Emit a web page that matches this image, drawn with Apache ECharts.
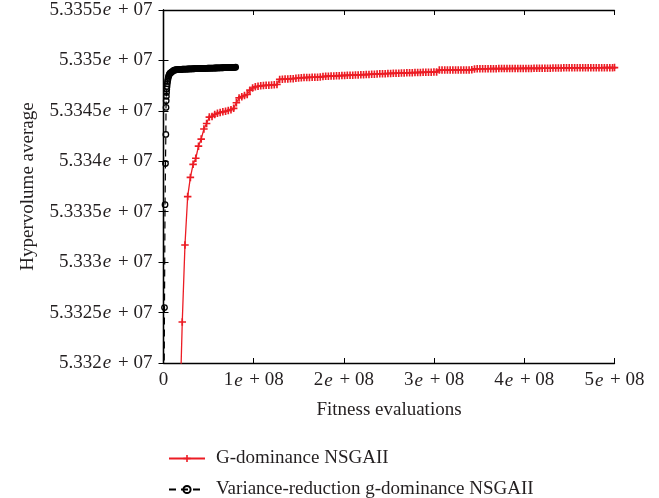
<!DOCTYPE html>
<html>
<head>
<meta charset="utf-8">
<script src="https://cdn.jsdelivr.net/npm/echarts@6/dist/echarts.min.js"></script>
<style>
  html, body { margin: 0; padding: 0; background: #fff; }
  #chart { width: 659px; height: 498px; }
</style>
</head>
<body>
<div id="chart"></div>
<script>
// Fitness evaluations are stored in millions; hypervolume averages as raw values.
const seriesNames = ['G-dominance NSGAII', 'Variance-reduction g-dominance NSGAII'];

const gdomEvalsM = [
  18.2, 20.8, 23.8, 26.8, 29.8, 32.8, 35.8, 38.8, 41.8, 44.8, 47.8, 50.8, 53.8, 56.8, 59.8,
  62.8, 65.8, 68.8, 71.8, 74.8, 77.8, 80.8, 83.8, 86.8, 89.8, 92.8, 95.8, 98.8, 101.8, 104.8,
  107.8, 110.8, 113.8, 116.8, 119.8, 122.8, 125.8,
  128.8, 131.8, 134.8, 137.8, 140.8, 143.8, 146.8, 149.8, 152.8, 155.8,
  158.8, 161.8, 164.8, 167.8, 170.8, 173.8, 176.8, 179.8, 182.8, 185.8,
  188.8, 191.8, 194.8, 197.8, 200.8, 203.8, 206.8, 209.8, 212.8, 215.8,
  218.8, 221.8, 224.8, 227.8, 230.8, 233.8, 236.8, 239.8, 242.8, 245.8,
  248.8, 251.8, 254.8, 257.8, 260.8, 263.8, 266.8, 269.8, 272.8, 275.8,
  278.8, 281.8, 284.8, 287.8, 290.8, 293.8, 296.8, 299.8, 302.8, 305.8,
  308.8, 311.8, 314.8, 317.8, 320.8, 323.8, 326.8, 329.8, 332.8, 335.8,
  338.8, 341.8, 344.8, 347.8, 350.8, 353.8, 356.8, 359.8, 362.8, 365.8,
  368.8, 371.8, 374.8, 377.8, 380.8, 383.8, 386.8, 389.8, 392.8, 395.8,
  398.8, 401.8, 404.8, 407.8, 410.8, 413.8, 416.8, 419.8, 422.8, 425.8,
  428.8, 431.8, 434.8, 437.8, 440.8, 443.8, 446.8, 449.8, 452.8, 455.8,
  458.8, 461.8, 464.8, 467.8, 470.8, 473.8, 476.8, 479.8, 482.8, 485.8,
  488.8, 491.8, 494.8, 497.8, 500.0
];
const gdomHV = [
  53315500, 53324070, 53331700, 53336500, 53338400, 53339700, 53340300, 53341500, 53342200,
  53343200, 53343750, 53344380, 53344450, 53344640, 53344760, 53344840, 53344900, 53344960,
  53345040, 53345120, 53345250, 53345800, 53346280, 53346400, 53346520, 53346620, 53347050,
  53347270, 53347380, 53347440, 53347480, 53347510, 53347530, 53347540, 53347560, 53347580,
  53347610,
  53348120, 53348135, 53348150, 53348165, 53348180, 53348195, 53348230, 53348260, 53348285, 53348298,
  53348308, 53348318, 53348328, 53348336, 53348344, 53348355, 53348400, 53348425, 53348440, 53348450,
  53348460, 53348472, 53348486, 53348500, 53348514, 53348525, 53348533, 53348541, 53348553, 53348565,
  53348578, 53348590, 53348598, 53348610, 53348625, 53348640, 53348655, 53348668, 53348680, 53348690,
  53348700, 53348712, 53348722, 53348730, 53348740, 53348752, 53348762, 53348770, 53348778, 53348786,
  53348794, 53348802, 53348810, 53348818, 53348826, 53348832, 53348838, 53348842, 53348848, 53349040,
  53349042, 53349044, 53349046, 53349048, 53349050, 53349052, 53349054, 53349056, 53349058, 53349060,
  53349062, 53349064, 53349160, 53349164, 53349168, 53349172, 53349176, 53349178, 53349180, 53349183,
  53349185, 53349188, 53349190, 53349192, 53349194, 53349196, 53349198, 53349200, 53349202, 53349204,
  53349206, 53349208, 53349210, 53349212, 53349214, 53349216, 53349218, 53349220, 53349222, 53349224,
  53349226, 53349240, 53349252, 53349258, 53349260, 53349262, 53349264, 53349266, 53349267, 53349268,
  53349270, 53349271, 53349272, 53349273, 53349274, 53349275, 53349276, 53349277, 53349278, 53349279,
  53349280, 53349282, 53349284, 53349286, 53349288
];

const vrEvalsM = [
  0.5, 1.1, 1.7, 2.2, 2.6, 2.8, 3.0, 3.2, 3.4, 3.6, 3.9, 4.2, 4.5, 4.9, 5.3, 5.8, 6.3, 6.9,
  7.5, 8.2, 9, 10, 11, 12, 13, 14, 15, 16, 17, 18, 19, 20, 21, 22, 23, 24, 25, 26, 27, 28,
  29, 30, 31, 32, 33, 34, 35, 36, 37, 38, 39, 40, 41, 42, 43, 44, 45, 46, 47, 48, 49, 50,
  51, 52, 53, 54, 55, 56, 57, 58, 59, 60, 61, 62, 63, 64, 65, 66, 67, 68, 69, 70, 71, 72,
  73, 74, 75, 76, 77, 78, 79, 80
];
const vrHV = [
  53314300, 53325500, 53335700, 53339780, 53342660, 53345340, 53346000, 53346450, 53346830,
  53347150, 53347420, 53347700, 53347920, 53348120, 53348310, 53348460, 53348580, 53348680,
  53348750, 53348800, 53348830, 53348920, 53348980, 53349040, 53349060, 53349075, 53349085,
  53349092, 53349100, 53349106, 53349112, 53349118, 53349123, 53349128, 53349133, 53349138,
  53349142, 53349146, 53349150, 53349154, 53349158, 53349162, 53349166, 53349170, 53349173,
  53349176, 53349180, 53349183, 53349187, 53349190, 53349194, 53349197, 53349200, 53349203,
  53349206, 53349209, 53349212, 53349215, 53349218, 53349221, 53349224, 53349227, 53349230,
  53349233, 53349236, 53349239, 53349242, 53349245, 53349248, 53349251, 53349254, 53349257,
  53349260, 53349263, 53349266, 53349269, 53349272, 53349275, 53349278, 53349281, 53349284,
  53349287, 53349290, 53349293, 53349296, 53349299, 53349302, 53349306, 53349310, 53349314,
  53349318, 53349322
];

// Tick labels: mantissa strings, drawn as "m e + exp"
const yTickMantissas = ['5.332', '5.3325', '5.333', '5.3335', '5.334', '5.3345', '5.335', '5.3355'];
const yTickExponent = '07';
const xTickMantissas = ['0', '1', '2', '3', '4', '5'];
const xTickExponent = '08';

const FONT = '"Liberation Serif", "DejaVu Serif", serif';
const INK = '#231f20';
const RED = '#ec1c24';

function sciLabel(m, exp) {
  return '{m|' + m + '}{e|e}{m| + ' + exp + '}';
}
const richStyles = {
  m: { fontFamily: FONT, fontSize: 19, color: INK },
  e: { fontFamily: FONT, fontSize: 19, color: INK, fontStyle: 'italic', padding: [0, 2, 0, 1] }
};

function toPairs(xsM, ys) {
  return xsM.map((x, i) => [x * 1e6, ys[i]]);
}

const chart = echarts.init(document.getElementById('chart'), null, { renderer: 'canvas' });

const xCommon = { type: 'value', min: 0, max: 5e8, interval: 1e8 };
const yCommon = { type: 'value', min: 53320000, max: 53355000, interval: 5000 };
const axisLine = { show: true, lineStyle: { color: '#000', width: 1.3 } };
const tickIn = { show: true, inside: true, length: 5, lineStyle: { color: '#000', width: 1 } };
const legendText = { fontFamily: FONT, fontSize: 19, color: INK, padding: [0, 0, 0, 6] };

chart.setOption({
  animation: false,
  backgroundColor: '#fff',
  grid: { left: 163.5, right: 44.5, top: 10, bottom: 135, containLabel: false },
  xAxis: [
    Object.assign({}, xCommon, {
      position: 'bottom',
      axisLine, axisTick: tickIn, splitLine: { show: false },
      axisLabel: {
        margin: 8,
        formatter: (v, i) => (i === 0 ? '{m|0}' : sciLabel(xTickMantissas[i], xTickExponent)),
        rich: richStyles
      },
      name: 'Fitness evaluations',
      nameLocation: 'middle',
      nameGap: 38,
      nameTextStyle: { fontFamily: FONT, fontSize: 19, color: INK }
    }),
    Object.assign({}, xCommon, {
      position: 'top',
      axisLine, axisTick: tickIn, splitLine: { show: false },
      axisLabel: { show: false }
    })
  ],
  yAxis: [
    Object.assign({}, yCommon, {
      position: 'left',
      axisLine, axisTick: tickIn, splitLine: { show: false },
      axisLabel: {
        margin: 11,
        formatter: (v, i) => sciLabel(yTickMantissas[i], yTickExponent),
        rich: richStyles
      },
      name: 'Hypervolume average',
      nameLocation: 'middle',
      nameGap: 126,
      nameTextStyle: { fontFamily: FONT, fontSize: 19, color: INK }
    }),
    Object.assign({}, yCommon, {
      position: 'right',
      axisLine, axisTick: tickIn, splitLine: { show: false },
      axisLabel: { show: false }
    })
  ],
  legend: [
    {
      left: 163, top: 444, itemWidth: 36, itemHeight: 9,
      textStyle: legendText, data: [seriesNames[0]]
    },
    {
      left: 163, top: 475, itemWidth: 36, itemHeight: 9,
      textStyle: legendText, data: [seriesNames[1]]
    }
  ],
  series: [
    {
      name: seriesNames[0],
      type: 'line',
      xAxisIndex: 0,
      yAxisIndex: 0,
      data: toPairs(gdomEvalsM, gdomHV),
      showAllSymbol: true,
      symbol: 'path://M3.9,0H6.1V3.9H10V6.1H6.1V10H3.9V6.1H0V3.9H3.9Z',
      symbolSize: 7.5,
      itemStyle: { color: RED },
      lineStyle: { color: RED, width: 1.3 },
      z: 2
    },
    {
      name: seriesNames[1],
      type: 'line',
      xAxisIndex: 0,
      yAxisIndex: 0,
      data: toPairs(vrEvalsM, vrHV),
      showAllSymbol: true,
      symbol: 'circle',
      symbolSize: 5.5,
      itemStyle: { color: 'rgba(255,255,255,0)', borderColor: '#000', borderWidth: 1.3 },
      lineStyle: { color: '#000', width: 1.2, type: [7, 5] },
      z: 3
    }
  ]
});
</script>
</body>
</html>
